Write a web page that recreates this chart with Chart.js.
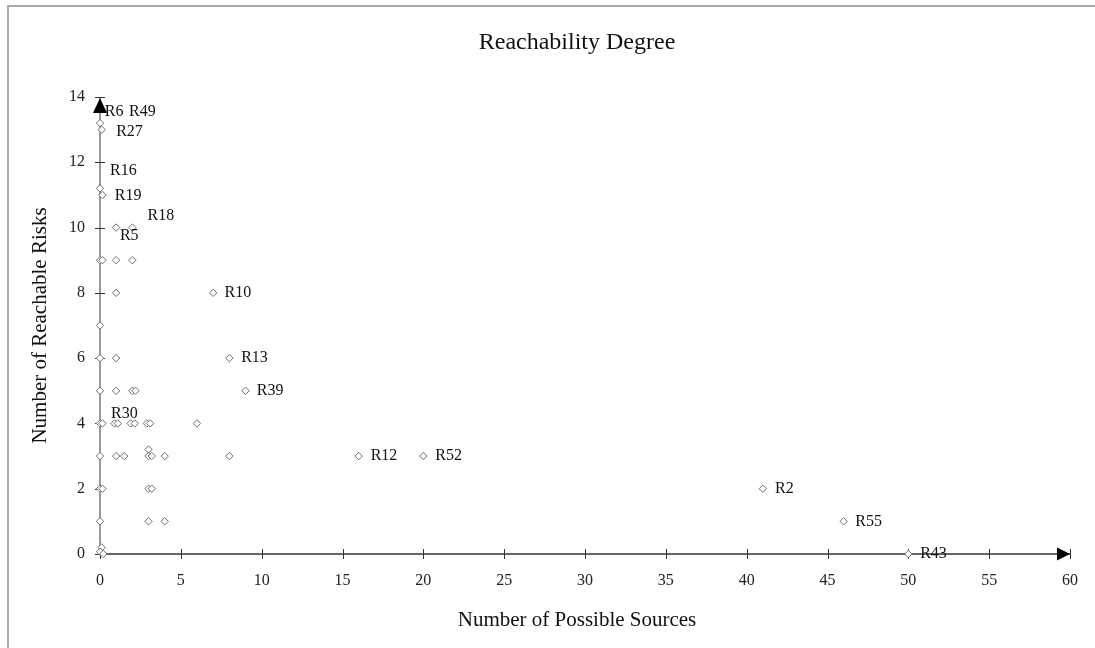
<!DOCTYPE html>
<html>
<head>
<meta charset="utf-8">
<script src="https://cdn.jsdelivr.net/npm/chart.js@4.4.1/dist/chart.umd.min.js"></script>
<style>
html,body{margin:0;padding:0;background:#fff;}
canvas{display:block;}
</style>
</head>
<body>
<canvas id="c" width="1095" height="648"></canvas>
<script>
// ---------- data ----------
const chartTitle = 'Reachability Degree';
const xAxisTitle = 'Number of Possible Sources';
const yAxisTitle = 'Number of Reachable Risks';

const xTickValues = [0, 5, 10, 15, 20, 25, 30, 35, 40, 45, 50, 55, 60];
const yTickValues = [0, 2, 4, 6, 8, 10, 12, 14];

// Number of possible sources (x) and number of reachable risks (y) for each risk
const possibleSources = [
  0, 0.1,
  0, 0.15,
  1, 2,
  0, 0.15, 1, 2,
  1, 7,
  0,
  0, 1, 8,
  0, 1, 2, 2.2, 9,
  0, 0.15, 0.9, 1.1, 1.9, 2.15, 2.9, 3.1, 6,
  3,
  0, 1, 1.5, 3, 3.2, 4, 8, 16, 20,
  0, 0.15, 3, 3.2, 41,
  0, 3, 4, 46,
  0.1, 0, 0.2, 50,
  0, 0
];
const reachableRisks = [
  13.2, 13,
  11.2, 11,
  10, 10,
  9, 9, 9, 9,
  8, 8,
  7,
  6, 6, 6,
  5, 5, 5, 5, 5,
  4, 4, 4, 4, 4, 4, 4, 4, 4,
  3.2,
  3, 3, 3, 3, 3, 3, 3, 3, 3,
  2, 2, 2, 2, 2,
  1, 1, 1, 1,
  0.2, 0.07, 0, 0,
  13.65, 13.65
];

// Point labels (anchor in data units: left edge of text, vertical middle)
const labelNames = ['R6', 'R49', 'R27', 'R16', 'R19', 'R18', 'R5', 'R30', 'R10', 'R13', 'R39', 'R12', 'R52', 'R2', 'R55', 'R43'];
const labelX     = [0.3, 1.8, 1.0, 0.62, 0.92, 2.94, 1.23, 0.68, 7.7, 8.73, 9.7, 16.74, 20.74, 41.75, 46.72, 50.73];
const labelY     = [13.55, 13.55, 12.94, 11.73, 10.98, 10.36, 9.75, 4.31, 8, 6, 5, 3, 3, 2, 1, 0];

// ---------- style ----------
const FONT = "'Liberation Serif', 'Times New Roman', serif";

const decor = {
  id: 'decor',
  beforeDraw(chart) {
    const c = chart.ctx;
    c.save();
    c.fillStyle = '#ffffff';
    c.fillRect(0, 0, chart.width, chart.height);
    c.strokeStyle = '#a8a8a8';
    c.lineWidth = 2;
    c.beginPath();
    c.moveTo(8, chart.height);
    c.lineTo(8, 6);
    c.lineTo(chart.width, 6);
    c.stroke();
    c.restore();
  },
  beforeDatasetsDraw(chart) {
    const c = chart.ctx, xs = chart.scales.x, ys = chart.scales.y;
    const x0 = xs.getPixelForValue(0), y0 = ys.getPixelForValue(0);
    const xEnd = xs.getPixelForValue(xs.max), yEnd = ys.getPixelForValue(ys.max);
    c.save();
    c.strokeStyle = '#9a9a9a';
    c.lineWidth = 2;
    c.beginPath(); c.moveTo(x0, y0); c.lineTo(x0, yEnd); c.stroke();
    c.strokeStyle = '#333';
    c.lineWidth = 1;
    yTickValues.forEach(v => {
      const p = Math.round(ys.getPixelForValue(v)) + 0.5;
      c.beginPath(); c.moveTo(x0 - 5, p); c.lineTo(x0 + 5, p); c.stroke();
    });
    c.strokeStyle = '#333';
    c.lineWidth = 1.3;
    c.beginPath(); c.moveTo(x0, y0); c.lineTo(xEnd, y0); c.stroke();
    c.lineWidth = 1;
    xTickValues.forEach(v => {
      const p = Math.round(xs.getPixelForValue(v)) + 0.5;
      c.beginPath(); c.moveTo(p, y0 - 5); c.lineTo(p, y0 + 5); c.stroke();
    });
    c.restore();
  },
  afterDatasetsDraw(chart) {
    const c = chart.ctx, xs = chart.scales.x, ys = chart.scales.y;
    const x0 = xs.getPixelForValue(0), y0 = ys.getPixelForValue(0);
    const xEnd = xs.getPixelForValue(xs.max), yEnd = ys.getPixelForValue(ys.max);
    c.save();
    c.fillStyle = '#111';
    c.font = '16px ' + FONT;
    c.textAlign = 'left';
    c.textBaseline = 'middle';
    labelNames.forEach((t, i) => {
      c.fillText(t, xs.getPixelForValue(labelX[i]), ys.getPixelForValue(labelY[i]));
    });
    c.fillStyle = '#000';
    c.beginPath();
    c.moveTo(x0, yEnd + 1); c.lineTo(x0 - 7, yEnd + 16); c.lineTo(x0 + 7, yEnd + 16); c.closePath(); c.fill();
    c.beginPath();
    c.moveTo(xEnd, y0); c.lineTo(xEnd - 13, y0 - 6.5); c.lineTo(xEnd - 13, y0 + 6.5); c.closePath(); c.fill();
    c.fillStyle = '#111';
    c.textAlign = 'center';
    c.font = '24px ' + FONT;
    c.fillText(chartTitle, 577, 43);
    c.font = '21px ' + FONT;
    c.fillText(xAxisTitle, 577, 620);
    c.restore();
  }
};

new Chart(document.getElementById('c'), {
  type: 'scatter',
  data: {
    datasets: [{
      data: possibleSources.map((x, i) => ({ x: x, y: reachableRisks[i] })),
      pointStyle: 'rectRot',
      pointRadius: 3.7,
      pointHoverRadius: 3.7,
      borderColor: '#6e6e6e',
      backgroundColor: '#ffffff',
      borderWidth: 1,
      clip: false
    }]
  },
  options: {
    responsive: false,
    animation: false,
    devicePixelRatio: 1,
    events: [],
    layout: { padding: { top: 97, right: 21, bottom: 0, left: 0 } },
    plugins: { legend: { display: false }, title: { display: false }, tooltip: { enabled: false } },
    scales: {
      x: {
        type: 'linear',
        min: xTickValues[0],
        max: xTickValues[xTickValues.length - 1],
        grid: { display: false, drawTicks: false },
        border: { display: false },
        ticks: { font: { family: FONT, size: 16 }, color: '#222', padding: 17, maxRotation: 0, autoSkip: false },
        afterBuildTicks: s => { s.ticks = xTickValues.map(v => ({ value: v })); },
        afterFit: s => { s.height = 94; }
      },
      y: {
        type: 'linear',
        min: yTickValues[0],
        max: yTickValues[yTickValues.length - 1],
        grid: { display: false, drawTicks: false },
        border: { display: false },
        ticks: { font: { family: FONT, size: 16 }, color: '#222', padding: 15, autoSkip: false },
        afterBuildTicks: s => { s.ticks = yTickValues.map(v => ({ value: v })); },
        afterFit: s => { s.width = 100; },
        title: { display: true, text: yAxisTitle, font: { family: FONT, size: 21 }, color: '#111', padding: { top: 28, bottom: 0 } }
      }
    }
  },
  plugins: [decor]
});
</script>
</body>
</html>
